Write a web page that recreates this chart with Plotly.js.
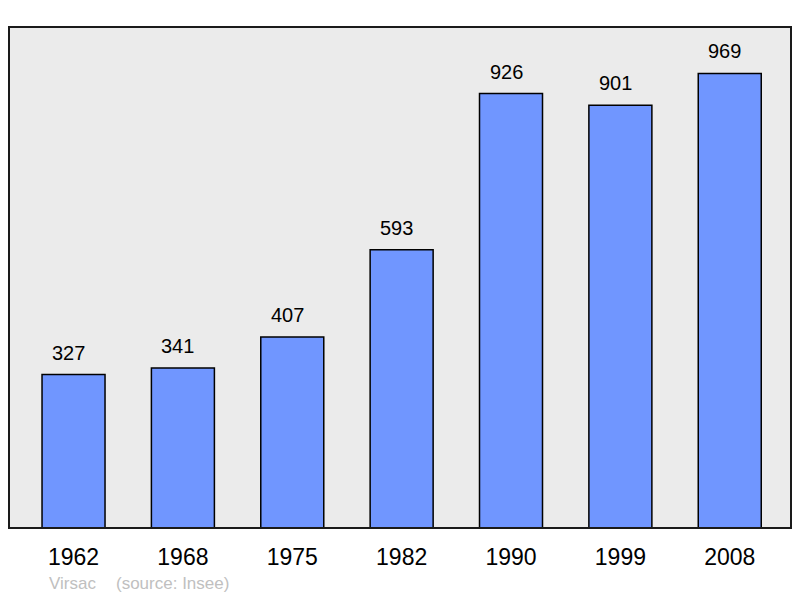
<!DOCTYPE html>
<html>
<head>
<meta charset="utf-8">
<script src="https://cdn.plot.ly/plotly-3.0.1.min.js"></script>
<style>html,body{margin:0;padding:0;background:#fff;}#chart{width:800px;height:598px;}</style>
</head>
<body>
<div id="chart"></div>
<script>
const years = ["1962", "1968", "1975", "1982", "1990", "1999", "2008"];
const population = [327, 341, 407, 593, 926, 901, 969];
const placeName = "Virsac";
const sourceText = "(source: Insee)";

const FONT = "Liberation Sans, Arial, sans-serif";

const trace = {
  type: "bar",
  x: years,
  y: population,
  width: 0.576,
  marker: { color: "#7096ff", line: { color: "#000", width: 1.5 } },
  hoverinfo: "none"
};

const labelAnnotations = years.map((yr, i) => ({
  x: i, y: population[i], xref: "x", yref: "y",
  text: String(population[i]), showarrow: false,
  yanchor: "bottom", yshift: 9, xshift: -5,
  font: { family: FONT, size: 20, color: "#000" }
}));

const footer = [
  { xref: "paper", yref: "paper", x: 0.049, y: -0.11, xanchor: "left", yanchor: "middle",
    text: placeName, showarrow: false, font: { family: FONT, size: 17, color: "#c0c0c0" } },
  { xref: "paper", yref: "paper", x: 0.1345, y: -0.11, xanchor: "left", yanchor: "middle",
    text: sourceText, showarrow: false, font: { family: FONT, size: 17, color: "#c0c0c0" } }
];

const layout = {
  width: 800, height: 598,
  margin: { l: 9, r: 9, t: 27, b: 70, pad: 0 },
  paper_bgcolor: "#fff",
  plot_bgcolor: "#ebebeb",
  showlegend: false,
  xaxis: {
    type: "category",
    range: [-0.59, 6.56],
    showgrid: false, zeroline: false, showline: false,
    ticks: "", ticklabelstandoff: 13,
    tickfont: { family: FONT, size: 23, color: "#000" },
    fixedrange: true
  },
  yaxis: {
    range: [0, 1068],
    showgrid: false, zeroline: false, showline: false,
    showticklabels: false, ticks: "",
    fixedrange: true
  },
  shapes: [{
    type: "rect", xref: "paper", yref: "paper", x0: 0, x1: 1, y0: 0, y1: 1,
    line: { color: "#1a1a1a", width: 2 }, fillcolor: "rgba(0,0,0,0)", layer: "above"
  }],
  annotations: labelAnnotations.concat(footer)
};

Plotly.newPlot("chart", [trace], layout, { staticPlot: true, displayModeBar: false });
</script>
</body>
</html>
